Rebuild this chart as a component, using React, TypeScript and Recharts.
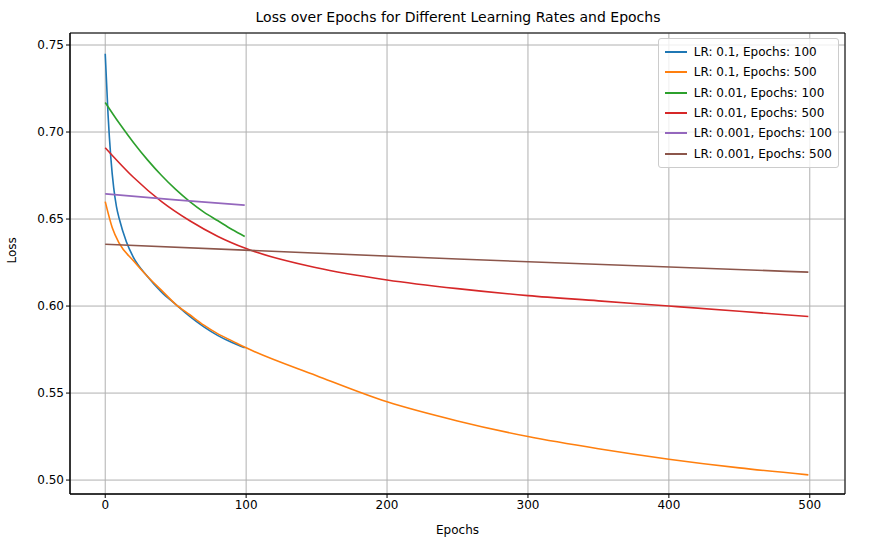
import React from 'react';
import { LineChart, Line, XAxis, YAxis, CartesianGrid, ReferenceArea } from 'recharts';

const blue = [
  { x: 0, y: 0.745 }, { x: 2, y: 0.71 }, { x: 4, y: 0.685 }, { x: 6, y: 0.668 }, { x: 8, y: 0.657 },
  { x: 10, y: 0.65 }, { x: 15, y: 0.637 }, { x: 20, y: 0.628 }, { x: 30, y: 0.617 }, { x: 40, y: 0.608 },
  { x: 50, y: 0.601 }, { x: 60, y: 0.594 }, { x: 70, y: 0.588 }, { x: 80, y: 0.583 }, { x: 90, y: 0.579 },
  { x: 99, y: 0.576 },
];
const orange = [
  { x: 0, y: 0.66 }, { x: 5, y: 0.645 }, { x: 10, y: 0.636 }, { x: 20, y: 0.626 }, { x: 30, y: 0.617 },
  { x: 40, y: 0.609 }, { x: 50, y: 0.601 }, { x: 60, y: 0.595 }, { x: 70, y: 0.589 }, { x: 80, y: 0.584 },
  { x: 90, y: 0.58 }, { x: 100, y: 0.576 }, { x: 150, y: 0.56 }, { x: 200, y: 0.545 }, { x: 250, y: 0.534 },
  { x: 300, y: 0.525 }, { x: 350, y: 0.518 }, { x: 400, y: 0.512 }, { x: 450, y: 0.507 }, { x: 499, y: 0.503 },
];
const green = [
  { x: 0, y: 0.717 }, { x: 10, y: 0.705 }, { x: 20, y: 0.694 }, { x: 30, y: 0.684 }, { x: 40, y: 0.675 },
  { x: 50, y: 0.667 }, { x: 60, y: 0.66 }, { x: 70, y: 0.654 }, { x: 80, y: 0.649 }, { x: 90, y: 0.644 },
  { x: 99, y: 0.64 },
];
const red = [
  { x: 0, y: 0.691 }, { x: 20, y: 0.674 }, { x: 40, y: 0.66 }, { x: 60, y: 0.649 }, { x: 80, y: 0.64 },
  { x: 100, y: 0.633 }, { x: 150, y: 0.622 }, { x: 200, y: 0.615 }, { x: 250, y: 0.61 }, { x: 300, y: 0.606 },
  { x: 350, y: 0.603 }, { x: 400, y: 0.6 }, { x: 450, y: 0.597 }, { x: 499, y: 0.594 },
];
const purple = [{ x: 0, y: 0.6645 }, { x: 50, y: 0.661 }, { x: 99, y: 0.658 }];
const brown = [{ x: 0, y: 0.6355 }, { x: 250, y: 0.627 }, { x: 499, y: 0.6195 }];

const xTicks = [0, 100, 200, 300, 400, 500];
const yTicks = [0.5, 0.55, 0.6, 0.65, 0.7, 0.75];

const series = [
  { name: 'LR: 0.1, Epochs: 100', data: blue, color: '#1f77b4' },
  { name: 'LR: 0.1, Epochs: 500', data: orange, color: '#ff7f0e' },
  { name: 'LR: 0.01, Epochs: 100', data: green, color: '#2ca02c' },
  { name: 'LR: 0.01, Epochs: 500', data: red, color: '#d62728' },
  { name: 'LR: 0.001, Epochs: 100', data: purple, color: '#9467bd' },
  { name: 'LR: 0.001, Epochs: 500', data: brown, color: '#8c564b' },
];

const font = 'DejaVu Sans, sans-serif';

const LegendBox = () => (
  <div style={{ position: 'absolute', top: 38, right: 47, border: '1px solid #ccc', borderRadius: 3, background: 'rgba(255,255,255,0.8)', padding: '3px 6px', fontFamily: font, fontSize: 12 }}>
    {series.map((s) => (
      <div key={s.name} style={{ display: 'flex', alignItems: 'center', height: 20.3 }}>
        <span style={{ display: 'inline-block', width: 22, height: 2, background: s.color, marginRight: 7 }} />
        {s.name}
      </div>
    ))}
  </div>
);

export default function App() {
  return (
    <div style={{ position: 'absolute', left: 0, top: 0, width: 886, height: 547, background: '#fff' }}>
      <div style={{ position: 'absolute', top: 9, width: 916, textAlign: 'center', fontFamily: font, fontSize: 14 }}>
        Loss over Epochs for Different Learning Rates and Epochs
      </div>
      <LineChart width={886} height={547} margin={{ top: 33, right: 41, left: 10, bottom: 23 }}>
        <CartesianGrid stroke="#b0b0b0" vertical horizontal />
        <XAxis type="number" dataKey="x" domain={[-25, 525]} ticks={xTicks} allowDataOverflow height={30}
          tick={{ fill: '#000', fontSize: 12, fontFamily: font }} tickSize={4} stroke="#000"
          label={{ value: 'Epochs', position: 'insideBottom', offset: -10, fill: '#000', fontSize: 12, fontFamily: font }} />
        <YAxis type="number" domain={[0.492, 0.7569]} ticks={yTicks} allowDataOverflow width={60}
          tickFormatter={(v: number) => v.toFixed(2)} tick={{ fill: '#000', fontSize: 12, fontFamily: font }} tickSize={4} stroke="#000"
          label={{ value: 'Loss', angle: -90, position: 'insideLeft', offset: 2, fill: '#000', fontSize: 12, fontFamily: font }} />
        <ReferenceArea x1={-25} x2={525} y1={0.492} y2={0.7569} fill="none" stroke="#000" strokeOpacity={1} ifOverflow="visible" />
        {series.map((s) => (
          <Line key={s.name} data={s.data} dataKey="y" name={s.name} stroke={s.color} strokeWidth={1.6}
            dot={false} type="monotone" isAnimationActive={false} />
        ))}
      </LineChart>
      <LegendBox />
    </div>
  );
}
